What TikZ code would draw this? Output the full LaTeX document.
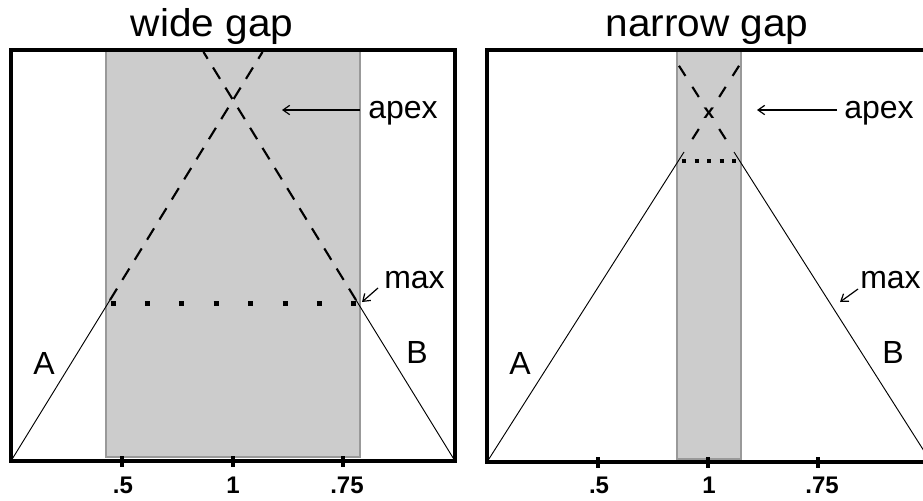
\documentclass[tikz,border=0pt]{standalone}
\usepackage{fontspec}
\setmainfont{Liberation Sans}
\usetikzlibrary{arrows.meta,calc}
\definecolor{band}{HTML}{CCCCCC}
\definecolor{bandedge}{HTML}{999999}
\begin{document}
\begin{tikzpicture}[x=0.75pt,y=-0.75pt,
  frame/.style={line width=2.8pt},
  bandbox/.style={fill=band,draw=bandedge,line width=1pt},
  slope/.style={line width=0.7pt},
  guessL/.style={line width=1.6pt,dash pattern=on 10pt off 7.7pt},
  guessR/.style={line width=1.6pt,dash pattern=on 9pt off 9.75pt},
  dotsL/.style={line width=3.75pt,dash pattern=on 3.75pt off 22.05pt},
  dotsR/.style={line width=3.3pt,dash pattern=on 3.3pt off 6.075pt},
  pointer/.style={line width=0.9pt,-{Straight Barb[length=5pt,width=7pt]}},
  lbl/.style={font=\fontsize{24}{28}\selectfont,inner sep=0pt},
  ticklbl/.style={font=\fontsize{18}{21}\selectfont\bfseries,inner sep=0pt,anchor=base},
  ttl/.style={font=\fontsize{29}{34}\selectfont,inner sep=0pt,anchor=base},
  tickmark/.style={line width=2.4pt},
  apexmark/.style={font=\fontsize{15}{17}\selectfont\bfseries,inner sep=0pt}
]
\useasboundingbox (0,0) rectangle (923,500);

% ---------------- left panel: wide gap ----------------
\node[ttl] (ttlL) at (212,36) {\scalebox{1.05}[1]{wide gap}};
\path[bandbox] (106,50) rectangle (360,457);

\coordinate (LA0) at (11,461);
\coordinate (LA1) at (110,300);
\coordinate (LA2) at (262.5,52);
\coordinate (LB0) at (455,461);
\coordinate (LB1) at (356,300);
\coordinate (LB2) at (203.5,52);

\draw[slope] (LA0) -- (LA1);
\draw[slope] (LB0) -- (LB1);
\draw[guessL] (LA1) -- (LA2);
\draw[guessL] (LB1) -- (LB2);

\coordinate (LD0) at (110.5,303);
\coordinate (LD1) at (357,303);
\draw[dotsL] (LD0) -- (LD1);

\draw[frame] (11,50) rectangle (455,461);

\foreach \tx/\nm in {122/a,233/b,343/c}{
  \coordinate (LT\nm0) at (\tx,456);
  \coordinate (LT\nm1) at (\tx,467);
  \draw[tickmark] (LT\nm0) -- (LT\nm1);
}
\node[ticklbl] (LL1) at (123,493) {.5};
\node[ticklbl] (LL2) at (233,493) {1};
\node[ticklbl] (LL3) at (347,493) {.75};

\node[lbl,anchor=base] (LAlbl) at (44,374) {A};
\node[lbl,anchor=base] (LBlbl) at (417,363) {B};

\node[lbl,anchor=base west] (apexL) at (368,118) {apex};
\coordinate (apexTailL) at (360,110);
\coordinate (apexTipL) at (282,110);
\draw[pointer] (apexTailL) -- (apexTipL);

\node[lbl,anchor=base west] (maxL) at (384,288) {max};
\coordinate (maxTailL) at (378,288);
\coordinate (maxTipL) at (362,302);
\draw[pointer] (maxTailL) -- (maxTipL);

% ---------------- right panel: narrow gap ----------------
\node[ttl] (ttlR) at (707,36) {\scalebox{1.05}[1]{narrow gap}};
\path[bandbox] (677,50) rectangle (741,459);

\coordinate (RA0) at (487,462);
\coordinate (RA1) at (684,152);
\coordinate (RB0) at (931,462);
\coordinate (RB1) at (734,152);
\coordinate (apexR) at (709,113);

\coordinate (RAu1) at (719.2,97);
\coordinate (RAu2) at (739.6,64.9);
\coordinate (RAd1) at (698.8,129);
\coordinate (RAd2) at (685.9,149.3);
\coordinate (RBu1) at (698.8,97);
\coordinate (RBu2) at (678.4,64.9);
\coordinate (RBd1) at (719.2,129);
\coordinate (RBd2) at (732.1,149.3);

\draw[slope] (RA0) -- (RA1);
\draw[slope] (RB0) -- (RB1);
\draw[guessR] (RAu1) -- (RAu2);
\draw[guessR] (RAd1) -- (RAd2);
\draw[guessR] (RBu1) -- (RBu2);
\draw[guessR] (RBd1) -- (RBd2);
\node[apexmark] (xR) at (apexR) {x};

\coordinate (RD0) at (682,161);
\coordinate (RD1) at (736.4,161);
\draw[dotsR] (RD0) -- (RD1);

\draw[frame] (487,50) rectangle (931,462);

\foreach \tx/\nm in {598/a,708/b,818/c}{
  \coordinate (RT\nm0) at (\tx,457);
  \coordinate (RT\nm1) at (\tx,468);
  \draw[tickmark] (RT\nm0) -- (RT\nm1);
}
\node[ticklbl] (RL1) at (599,493) {.5};
\node[ticklbl] (RL2) at (709,493) {1};
\node[ticklbl] (RL3) at (822,493) {.75};

\node[lbl,anchor=base] (RAlbl) at (520,374) {A};
\node[lbl,anchor=base] (RBlbl) at (893,363) {B};

\node[lbl,anchor=base west] (apexRl) at (844,118) {apex};
\coordinate (apexTailR) at (837,110);
\coordinate (apexTipR) at (757,110);
\draw[pointer] (apexTailR) -- (apexTipR);

\node[lbl,anchor=base west] (maxR) at (860,288) {max};
\coordinate (maxTailR) at (858,289);
\coordinate (maxTipR) at (840,302);
\draw[pointer] (maxTailR) -- (maxTipR);
\end{tikzpicture}
\end{document}
